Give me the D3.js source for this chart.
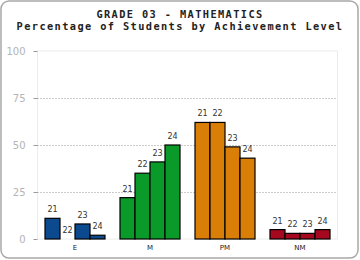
<!DOCTYPE html>
<html lang="en">
  <head>
    <meta charset="utf-8">
    <script src="https://cdn.jsdelivr.net/npm/d3@7"></script>
    <style>
      body { margin: 0; background: #fff; }
    </style>
  </head>
  <body>
    <div id="chart"></div>
    <script>
      // data
      var levels = ["E", "M", "PM", "NM"];
      var years = ["21", "22", "23", "24"];
      var valuesE = [11, 0, 8, 2];
      var valuesM = [22, 35, 41, 50];
      var valuesPM = [62, 62, 49, 43];
      var valuesNM = [5, 3, 3, 5];
      var yTicks = [0, 25, 50, 75, 100];
      var colors = ["#0b4a8e", "#0a9a2a", "#d97e06", "#a6091f"];

      var series = [valuesE, valuesM, valuesPM, valuesNM];

      var w = 360, h = 260;
      var plotL = 37.5, plotR = 337.5, plotT = 51, plotB = 239;

      var svg = d3.select("#chart").append("svg")
        .attr("width", w)
        .attr("height", h);

      // outer rounded frame
      svg.append("rect")
        .attr("x", 1).attr("y", 1)
        .attr("width", w - 3).attr("height", h - 3)
        .attr("rx", 8)
        .attr("fill", "#fff")
        .attr("stroke", "#a8a8a8")
        .attr("stroke-width", 1.5);

      // titles
      var titles = ["GRADE 03 - MATHEMATICS", "Percentage of Students by Achievement Level"];
      svg.selectAll(".title")
        .data(titles)
        .enter().append("text")
        .attr("class", "title")
        .attr("x", 180)
        .attr("y", function(d, i){ return 18 + i * 11.5; })
        .attr("text-anchor", "middle")
        .style("font", "bold 10.3px 'DejaVu Sans Mono', monospace")
        .style("letter-spacing", "1.4px")
        .attr("fill", "#222")
        .text(function(d){ return d; });

      var x = d3.scaleBand().domain(levels).range([plotL, plotR]).paddingInner(0.2).paddingOuter(0.1);
      var xs = d3.scaleBand().domain(years).range([0, x.bandwidth()]);
      var y = d3.scaleLinear().domain([0, 100]).range([plotB, plotT]);

      // plot frame
      svg.append("rect")
        .attr("x", plotL).attr("y", plotT)
        .attr("width", plotR - plotL).attr("height", plotB - plotT)
        .attr("fill", "none")
        .attr("stroke", "#ececec");

      // gridlines
      svg.selectAll(".grid")
        .data(yTicks.filter(function(d){ return d > 0 && d < 100; }))
        .enter().append("line")
        .attr("class", "grid")
        .attr("x1", plotL).attr("x2", plotR)
        .attr("y1", function(d){ return Math.round(y(d)) + 0.5; })
        .attr("y2", function(d){ return Math.round(y(d)) + 0.5; })
        .attr("stroke", "#999")
        .attr("stroke-dasharray", "1,2");

      // y axis
      var yAxis = svg.append("g")
        .attr("transform", "translate(" + plotL + ",0)")
        .call(d3.axisLeft(y).tickValues(yTicks).tickSize(4).tickPadding(8));
      yAxis.select(".domain").remove();
      yAxis.selectAll("line").attr("stroke", "#999");
      yAxis.selectAll("text")
        .attr("fill", "#b4b4b4")
        .style("font", "10px Verdana, 'DejaVu Sans', sans-serif");

      // bars
      series.forEach(function(vals, i){
        var g = svg.append("g")
          .attr("transform", "translate(" + x(levels[i]) + ",0)");
        g.selectAll("rect")
          .data(vals)
          .enter().append("rect")
          .attr("x", function(d, j){ return xs(years[j]); })
          .attr("y", function(d){ return y(d); })
          .attr("width", xs.bandwidth())
          .attr("height", function(d){ return y(0) - y(d); })
          .attr("fill", colors[i])
          .attr("stroke", "#000")
          .attr("stroke-width", 1.2)
          .style("display", function(d){ return d > 0 ? null : "none"; });
        g.selectAll("text")
          .data(vals)
          .enter().append("text")
          .attr("x", function(d, j){ return xs(years[j]) + xs.bandwidth() / 2; })
          .attr("y", function(d){ return y(d) - 6; })
          .attr("text-anchor", "middle")
          .attr("fill", "#333")
          .style("font", "8px 'DejaVu Sans', sans-serif")
          .text(function(d, j){ return years[j]; });
      });

      // category labels
      svg.selectAll(".cat")
        .data(levels)
        .enter().append("text")
        .attr("class", "cat")
        .attr("x", function(d){ return x(d) + x.bandwidth() / 2; })
        .attr("y", 250)
        .attr("text-anchor", "middle")
        .attr("fill", "#222")
        .style("font", "7px 'DejaVu Sans', sans-serif")
        .text(function(d){ return d; });
    </script>
  </body>
</html>
